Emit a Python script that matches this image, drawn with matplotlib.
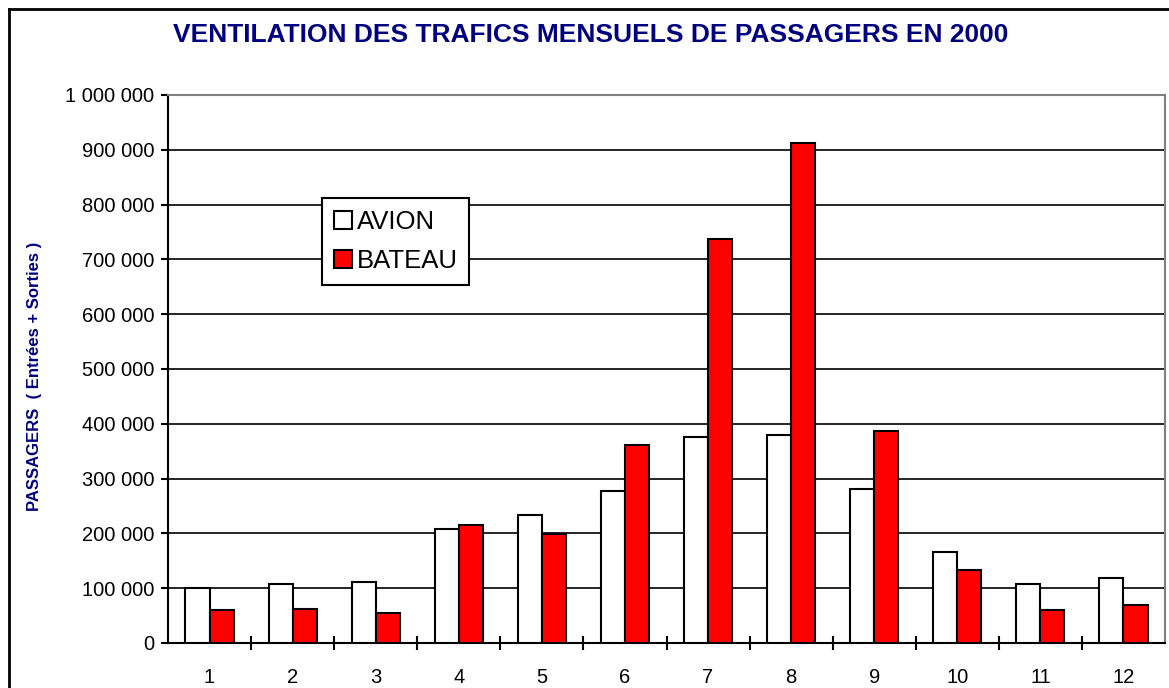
import matplotlib
matplotlib.use("Agg")
import matplotlib.pyplot as plt
import numpy as np
from matplotlib.ticker import FuncFormatter, MultipleLocator
from matplotlib.lines import Line2D

plt.rcParams['font.family'] = ['Liberation Sans', 'DejaVu Sans']

mois = ['1', '2', '3', '4', '5', '6', '7', '8', '9', '10', '11', '12']
avion = [100000, 108000, 112000, 208000, 234000, 278000, 376000, 380000, 281000, 166000, 108000, 119000]
bateau = [61000, 62000, 54000, 215000, 198000, 362000, 738000, 913000, 387000, 134000, 61000, 69000]

navy = '#000080'

fig = plt.figure(figsize=(11.69, 6.88), dpi=100)
ax = fig.add_axes([168/1169, 1-643/688, 997/1169, 548/688])

x = np.arange(len(mois))
w = 0.29
ax.bar(x - w/2, avion, w, color='white', edgecolor='black', linewidth=1.5, label='AVION', zorder=3)
ax.bar(x + w/2, bateau, w, color='#ff0000', edgecolor='black', linewidth=1.5, label='BATEAU', zorder=3)

ax.set_xlim(-0.5, 11.5)
ax.set_ylim(0, 1000000)
ax.yaxis.set_major_locator(MultipleLocator(100000))
ax.yaxis.set_major_formatter(FuncFormatter(lambda v, p: '{:,.0f}'.format(v).replace(',', ' ')))
ax.grid(axis='y', color='black', linewidth=1.2, zorder=0)
ax.set_axisbelow(True)

ax.set_xticks(x)
ax.set_xticklabels(mois)
ax.set_xticks(np.arange(0.5, 11.5, 1), minor=True)
ax.tick_params(axis='x', which='major', length=0, pad=18, labelsize=14.5)
ax.tick_params(axis='x', which='minor', direction='inout', length=10, width=1.5)
ax.tick_params(axis='y', direction='out', length=5, width=1.5, pad=5, labelsize=14.5)

for s in ['left', 'bottom']:
    ax.spines[s].set_linewidth(1.5)
    ax.spines[s].set_color('black')
for s in ['top', 'right']:
    ax.spines[s].set_linewidth(1.5)
    ax.spines[s].set_color('#808080')

leg = ax.legend(loc='upper left', bbox_to_anchor=(0.1545, 0.812), borderaxespad=0,
                fancybox=False, shadow=False, framealpha=1, edgecolor='black',
                fontsize=18.5, handlelength=0.7, handleheight=0.7, handletextpad=0.2,
                labelspacing=0.6, borderpad=0.45)
leg.get_frame().set_linewidth(1.5)

fig.text(591/1169, 1-35/688, 'VENTILATION DES TRAFICS MENSUELS DE PASSAGERS EN 2000',
         ha='center', va='center', fontsize=19, fontweight='bold', color=navy)
fig.text(35/1169, 1-376/688, 'PASSAGERS  ( Entrées + Sorties )', rotation=90,
         ha='center', va='center', fontsize=12, fontweight='bold', color=navy)

# cadre du graphique
fig.add_artist(Line2D([8.5/1169, 8.5/1169], [0, 1-8.5/688], color='black', linewidth=2))
fig.add_artist(Line2D([8.5/1169, 1], [1-8.5/688, 1-8.5/688], color='black', linewidth=2))

fig.savefig('out.png', dpi=100)
